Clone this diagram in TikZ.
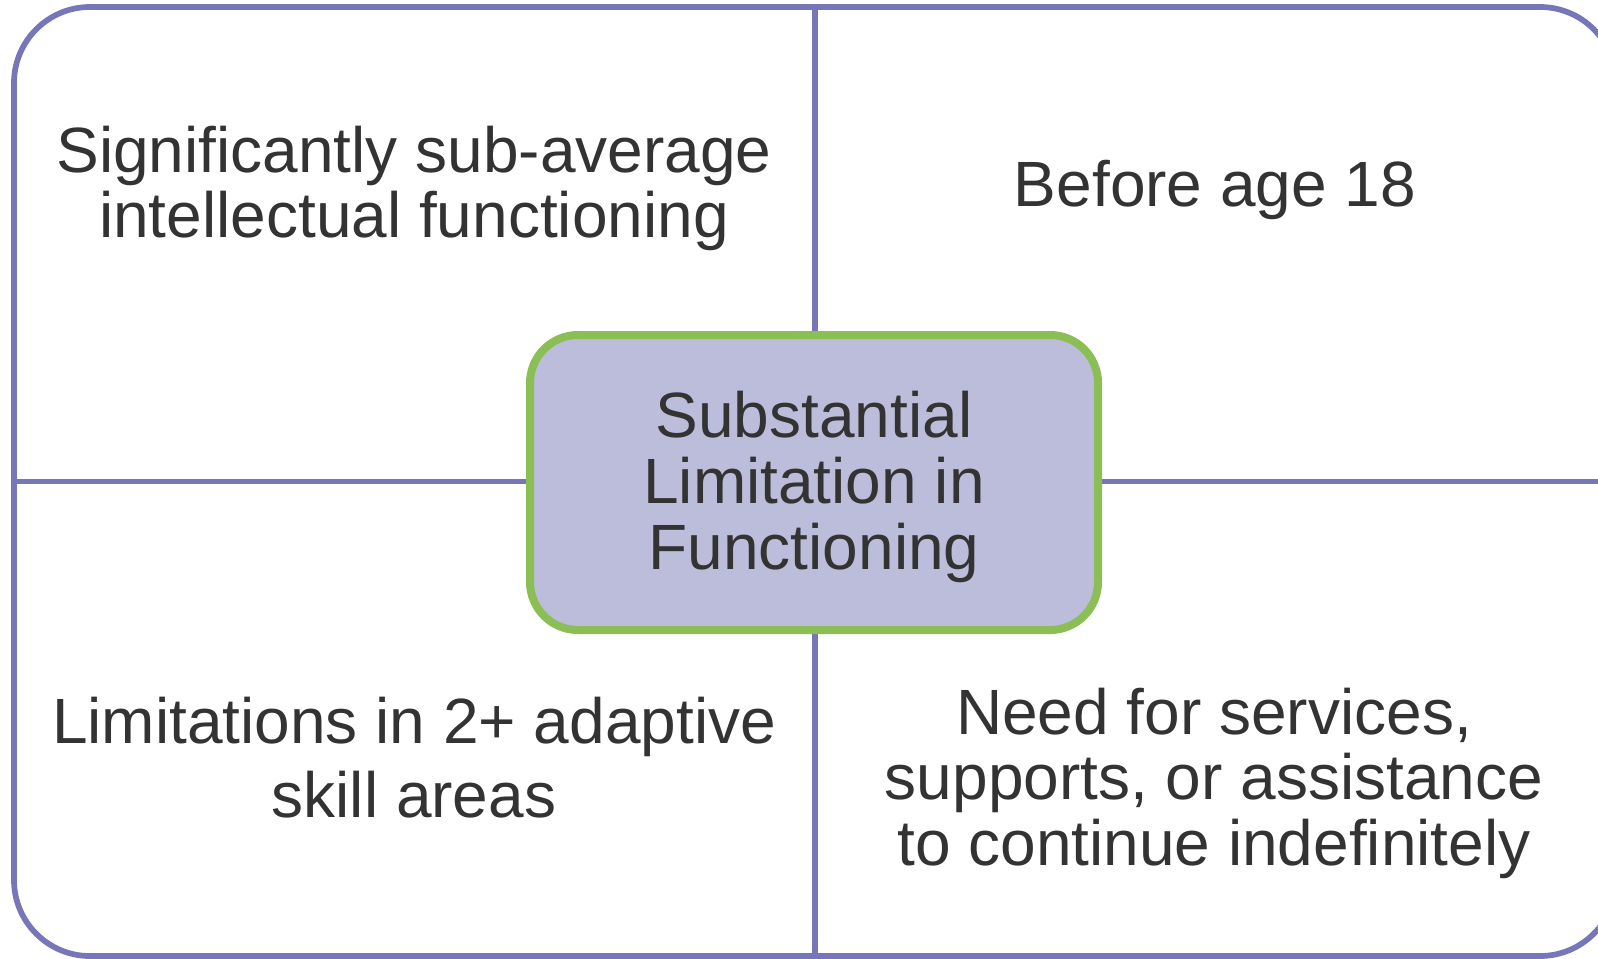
\documentclass[tikz,border=0pt]{standalone}
\usepackage{fontspec}
\setmainfont{Liberation Sans}
\definecolor{frameblue}{HTML}{7676B8}
\definecolor{corefill}{HTML}{BBBDDA}
\definecolor{coregreen}{HTML}{8BBF56}
\definecolor{ink}{HTML}{333333}
\begin{document}
\begin{tikzpicture}[x=0.5pt,y=-0.5pt,
  framebox/.style={rectangle, draw=frameblue, line width=2.85pt,
    rounded corners=38pt, minimum width=801pt, minimum height=474.5pt,
    inner sep=0pt},
  divider/.style={draw=frameblue, line width=2.85pt},
  corebox/.style={rectangle, draw=coregreen, fill=corefill, line width=4pt,
    rounded corners=24pt, minimum width=284pt, minimum height=147.5pt,
    inner sep=0pt, align=center, text=ink,
    font=\fontsize{32}{33}\selectfont},
  quad/.style={anchor=base, inner sep=0pt, text=ink}]
\useasboundingbox (0,0) rectangle (1598,958);
\clip (0,0) rectangle (1598,958);
% outer frame, running past the right edge of the page
\node[framebox] (frame) at (815,481.5) {};
% cross dividing the frame into four quadrants
\draw[divider] (frame.north) -- (frame.south);
\draw[divider] (frame.west) -- (frame.east);
% central box (the strut in the first line lowers the text block slightly)
\node[corebox] (core) at (814,482.5)
  {\rule{0pt}{27.4pt}Substantial\\Limitation in\\Functioning};
% quadrant texts
\node[quad, font=\fontsize{32}{31.5}\selectfont] (tl) at (414,172)
  {\begin{tabular}[t]{@{}c@{}}Significantly sub-average\\intellectual functioning\end{tabular}};
\node[quad, font=\fontsize{32}{32.5}\selectfont] (tr) at (1215,206)
  {Before age 18};
\node[quad, font=\fontsize{32}{37}\selectfont] (bl) at (414,743)
  {\begin{tabular}[t]{@{}c@{}}Limitations in 2+ adaptive\\skill areas\end{tabular}};
\node[quad, font=\fontsize{32}{32.5}\selectfont] (br) at (1214,734)
  {\begin{tabular}[t]{@{}c@{}}Need for services,\\supports, or assistance\\to continue indefinitely\end{tabular}};
\end{tikzpicture}
\end{document}
